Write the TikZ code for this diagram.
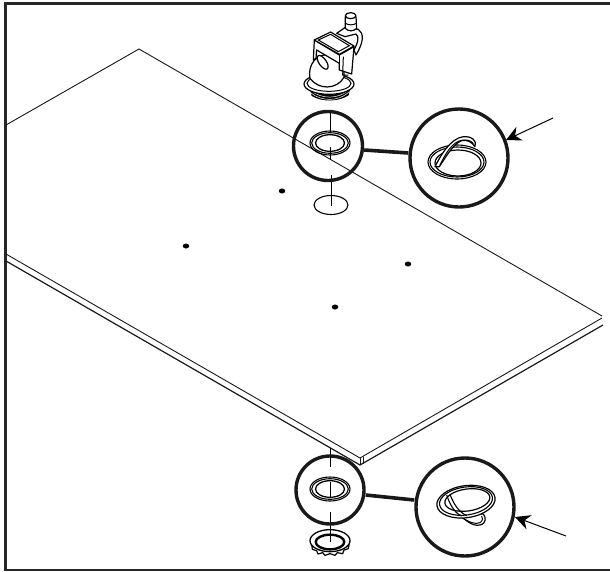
\documentclass[tikz,border=0pt]{standalone}
\usetikzlibrary{arrows.meta,calc,shapes.geometric}
\tikzset{
 frame/.style={line width=2.4pt,draw=black!85},
 edge/.style={line width=0.9pt,draw=black!90},
 axis/.style={line width=0.9pt},
 lens/.style={line width=3.4pt,draw=black!90},
 link/.style={line width=3.6pt,draw=black!90},
 pointer/.style={line width=1pt,-{Stealth[length=15pt,width=15pt,inset=5pt]}},
 hole/.style={ellipse,fill=black,inner sep=0pt,minimum width=6.5pt,minimum height=5pt},
 ring/.style={line width=1.1pt},
 part/.style={line width=1.2pt,fill=white,line join=round},
 fine/.style={line width=1pt},
}
\begin{document}
\begin{tikzpicture}[x=1pt,y=-1pt]
\useasboundingbox (0,0) rectangle (610,571);
\draw[frame] (610,3.5) -- (5.3,3.5) -- (5.3,571);
\draw[frame] (5.3,570) -- (610,570);
% plate
\coordinate (pa) at (139,49);
\coordinate (pb) at (6,125);
\coordinate (pc) at (602,316);
\coordinate (pd) at (360,458);
\coordinate (pe) at (6,254);
\coordinate (pf) at (6,261);
\coordinate (pg) at (360,465);
\coordinate (ph) at (603,325);
\coordinate (pi) at (602,318);
\draw[edge] (pb) -- (pa) -- (pc);
\draw[edge] (pe) -- (pd) -- (pi);
\draw[edge,line width=1.2pt] (pf) -- (pg) -- (ph);
\draw[edge,line width=0.7pt] (pd) -- (pg);
\draw[edge,line width=0.7pt] ($(pd)+(3,-1.5)$) -- ($(pg)+(3,-1.5)$);
% holes
\node[hole] (h1) at (282,191) {};
\node[hole] (h2) at (186,246) {};
\node[hole] (h3) at (408,264) {};
\node[hole] (h4) at (335,307) {};
% axes
\draw[axis] (330,112) -- (330,133);
\draw[axis] (331,175) -- (331,206);
\draw[axis] (330,448) -- (330,467);
\draw[axis] (330,512) -- (330,542);
% top washer
\draw[ring] (330,143) ellipse [x radius=20,y radius=12];
\draw[ring] (330,143) ellipse [x radius=18.3,y radius=10.3];
\draw[ring,line width=1.3pt] (330,143) ellipse [x radius=14.5,y radius=8.3];
\draw[axis] (330,147) -- (330,160);
\draw[ring] (331,205) ellipse [x radius=17,y radius=9.5];
% lenses
\node[circle,lens,minimum size=69pt,inner sep=0pt] (l1) at (328,146) {};
\node[circle,lens,minimum size=98pt,inner sep=0pt] (l2) at (459,158) {};
\node[circle,lens,minimum size=68pt,inner sep=0pt] (l3) at (330,490) {};
\node[circle,lens,minimum size=98pt,inner sep=0pt] (l4) at (465,507) {};
\coordinate (k1) at (0,150);
\coordinate (k2) at (0,153);
\coordinate (k3) at (0,495);
\coordinate (k4) at (0,500);
\draw[link] (l1.east |- k1) -- (l2.west |- k2);
\draw[link] (l3.east |- k3) -- (l4.west |- k4);
% pointers
\coordinate (t1) at (553,118);
\coordinate (t2) at (566,536);
\coordinate (e1) at (506,140);
\coordinate (e2) at (515,517);
\draw[pointer] (t1) -- (e1);
\draw[pointer] (t2) -- (e2);
% detail 1
\draw[ring] (457,162) ellipse [x radius=29,y radius=17];
\draw[ring] (457,162) ellipse [x radius=27,y radius=15];
\draw[ring,line width=1.2pt] (458,163) ellipse [x radius=23,y radius=13];
\begin{scope}[shift={(280,100)},scale=1/3]
\draw[part] (465,200) .. controls (480,170) and (510,115) .. (550,110)
 .. controls (575,108) and (592,122) .. (585,140)
 .. controls (575,125) and (560,118) .. (545,122)
 .. controls (520,130) and (495,175) .. (478,200) -- cycle;
\draw[fine] (480,195) .. controls (495,165) and (515,125) .. (548,120) .. controls (565,118) and (578,125) .. (580,132);
\end{scope}
% bottom washer
\draw[ring] (330,489) ellipse [x radius=20,y radius=12];
\draw[ring] (330,489) ellipse [x radius=18.3,y radius=10.3];
\draw[ring,line width=1.3pt] (330,489) ellipse [x radius=14.5,y radius=8.3];
\draw[axis] (330,482) -- (330,497);
% nut
\begin{scope}[shift={(280,430)},scale=1/3]
\draw[part] (95,340) -- (97,358) -- (110,362) -- (114,372) -- (128,368) -- (135,376) -- (150,371) -- (165,376) -- (172,368) -- (188,371) -- (192,360) -- (205,356) -- (208,338) -- cycle;
\draw[part,line width=1.3pt] (150,332) ellipse [x radius=60,y radius=33];
\draw[part,line width=2.4pt] (150,336) ellipse [x radius=43,y radius=22];
\draw[axis] (150,295) -- (150,335);
\end{scope}
% detail 2
\begin{scope}[shift={(280,430)},scale=1/3]
\draw[part] (535,255) .. controls (560,270) and (575,290) .. (600,285)
 .. controls (620,280) and (618,262) .. (610,252) -- cycle;
\draw[fine] (545,262) .. controls (565,275) and (585,285) .. (600,278) .. controls (610,272) and (608,262) .. (605,258);
\draw[part] (558,215) ellipse [x radius=88,y radius=48, rotate=8];
\draw[ring] (558,213) ellipse [x radius=80,y radius=42, rotate=8];
\draw[ring,line width=1.2pt] (562,210) ellipse [x radius=68,y radius=33, rotate=8];
\draw[ring] (500,195) .. controls (510,225) and (525,250) .. (545,258);
\draw[ring] (510,193) .. controls (520,220) and (535,245) .. (560,257);
\end{scope}
% camera
\begin{scope}[shift={(280,0)},scale=1/3]
\draw[part,fill=black,line width=0.8pt] (90,262) -- (96,287) .. controls (125,305) and (175,305) .. (205,285) -- (210,260) -- cycle;
\foreach \d in {0,7}{\draw[white,line width=0.5pt] (93,{272+\d}) .. controls (125,{298+\d}) and (175,{298+\d}) .. (206,{270+\d});}
\draw[part] (147,252) ellipse [x radius=75,y radius=31];
\draw[fine] (147,250) ellipse [x radius=66,y radius=24];
% dome
\draw[part] (90,235) .. controls (82,195) and (110,158) .. (150,165)
 .. controls (180,172) and (195,205) .. (192,232)
 .. controls (170,270) and (115,270) .. (90,235) -- cycle;
\draw[part] (128,187) ellipse [x radius=11,y radius=24,rotate=35];
% rear bracket
\draw[part] (170,100) -- (196,82) -- (235,88) .. controls (252,100) and (252,125) .. (228,165) -- (222,150) .. controls (235,125) and (238,110) .. (228,102) -- (195,110) -- cycle;
% nipple
\draw[part] (196,85) -- (196,50) -- (228,50) -- (230,85) .. controls (220,95) and (205,95) .. (196,85) -- cycle;
\draw[part] (212,47) ellipse [x radius=16,y radius=9];
\draw[fine] (197,70) .. controls (205,76) and (220,76) .. (229,70);
% bracket box
\draw[part] (103,120) -- (100,180) -- (108,175) -- (110,150) -- (178,190) -- (178,210) -- (215,222) -- (222,140) -- (178,165) -- cycle;
\draw[part] (103,120) -- (152,96) -- (222,138) -- (178,163) -- cycle;
\draw[fine] (115,120) -- (152,103) -- (208,137) -- (175,155) -- cycle;
\draw[fine] (178,163) -- (178,210);
\draw[fine] (190,170) -- (188,225) -- (205,225);
\end{scope}
\end{tikzpicture}
\end{document}
